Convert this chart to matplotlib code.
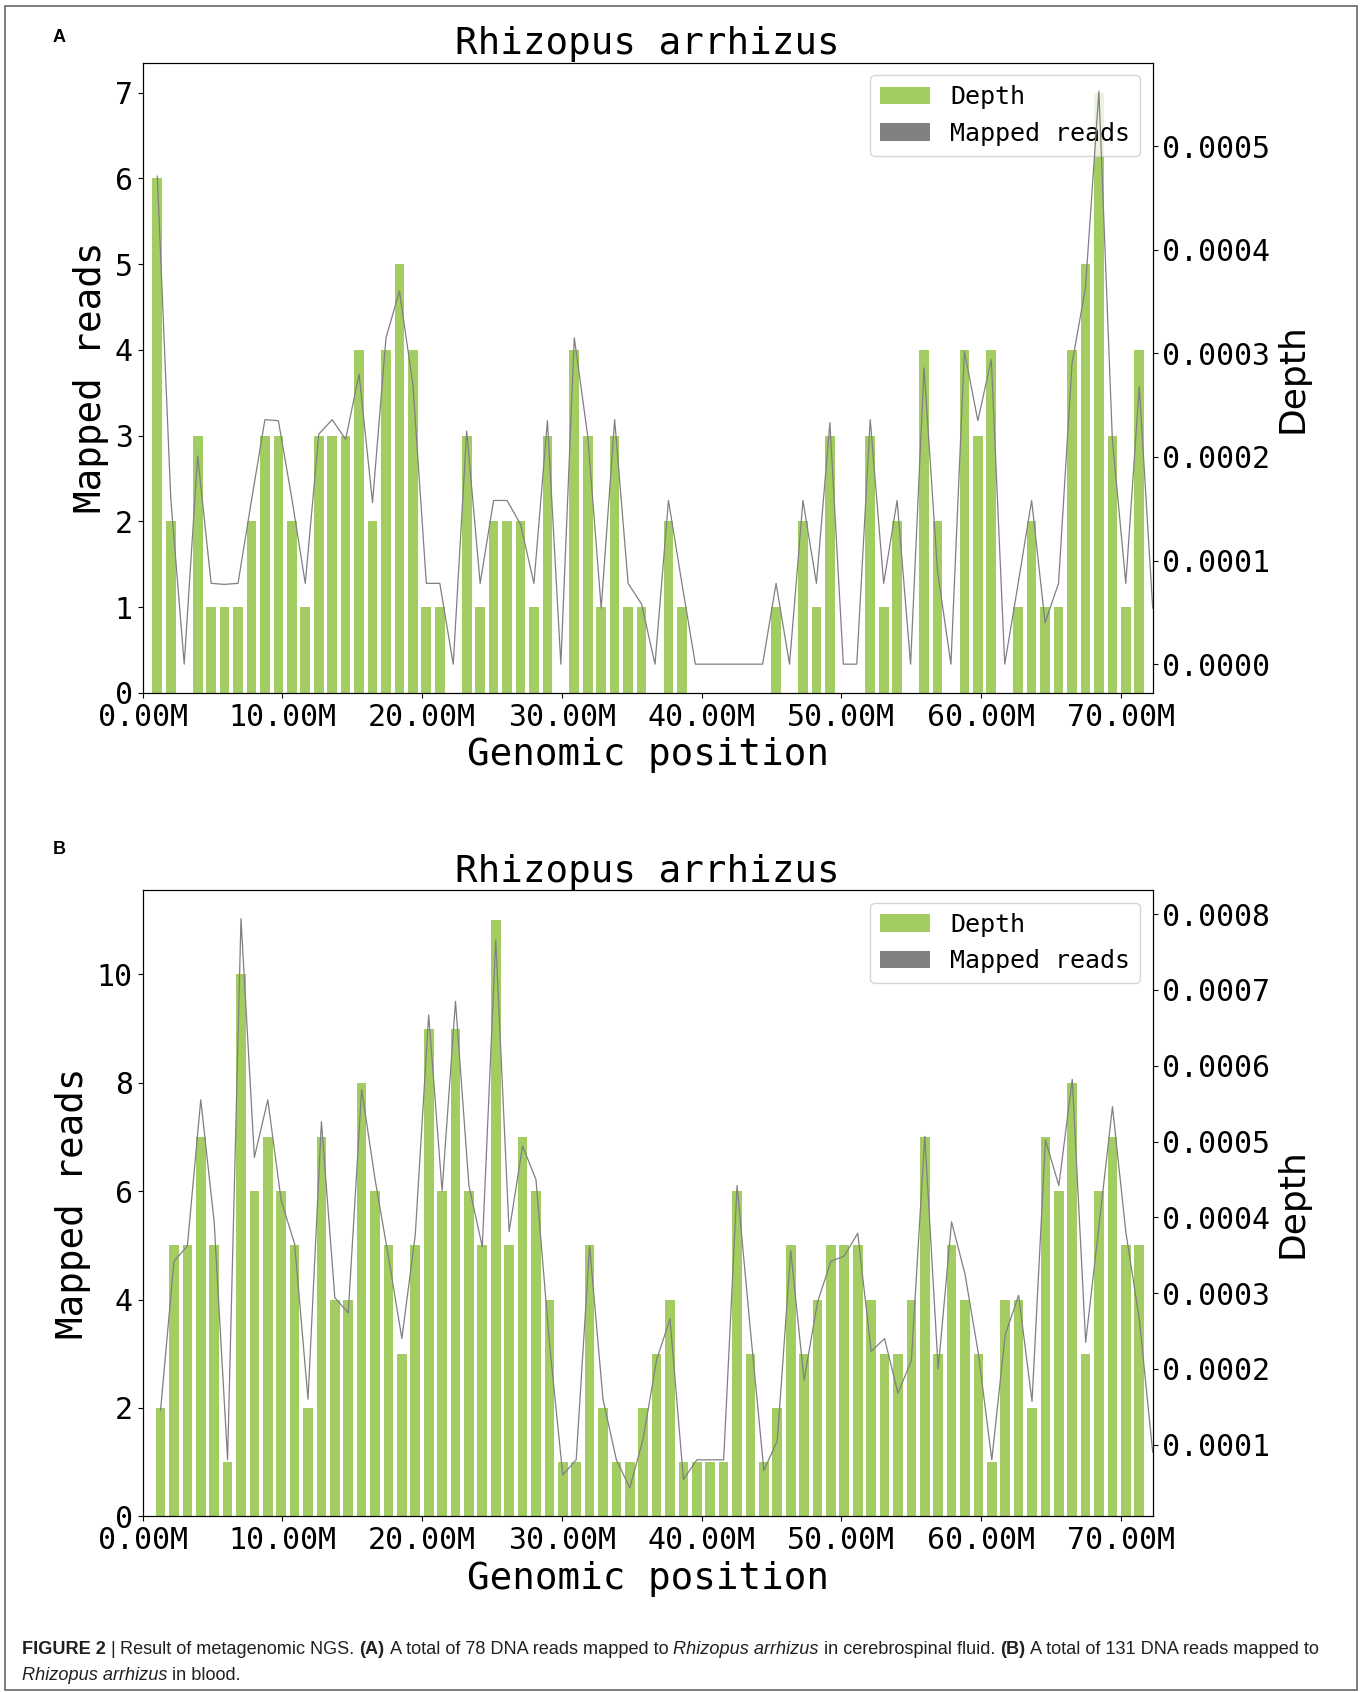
import numpy as np
import matplotlib
matplotlib.use("Agg")
import matplotlib.pyplot as plt
from matplotlib.patches import Patch, Rectangle
from matplotlib.ticker import MultipleLocator, FormatStrFormatter, FuncFormatter
from matplotlib import font_manager

# ---------------- data ----------------
title = "Rhizopus arrhizus"
genome_len_mb = 72.28
a_first_mb = 1.06
b_first_mb = 1.29

a_reads = [6, 2, 0, 3, 1, 1, 1, 2, 3, 3,
           2, 1, 3, 3, 3, 4, 2, 4, 5, 4,
           1, 1, 0, 3, 1, 2, 2, 2, 1, 3,
           0, 4, 3, 1, 3, 1, 1, 0, 2, 1,
           0, 0, 0, 0, 0, 0, 1, 0, 2, 1,
           3, 0, 0, 3, 1, 2, 0, 4, 2, 0,
           4, 3, 4, 0, 1, 2, 1, 1, 4, 5,
           7, 3, 1, 4, 0]
a_depth_e4 = [4.71, 1.60, 0.00, 2.01, 0.78, 0.77, 0.78, 1.58, 2.36, 2.35,
              1.60, 0.78, 2.22, 2.36, 2.17, 2.80, 1.56, 3.15, 3.60, 2.70,
              0.78, 0.78, 0.00, 2.25, 0.78, 1.58, 1.58, 1.35, 0.78, 2.35,
              0.00, 3.15, 2.20, 0.54, 2.36, 0.78, 0.58, 0.00, 1.58, 0.78,
              0.00, 0.00, 0.00, 0.00, 0.00, 0.00, 0.78, 0.00, 1.58, 0.78,
              2.33, 0.00, 0.00, 2.36, 0.78, 1.58, 0.00, 2.86, 0.90, 0.00,
              3.02, 2.35, 2.94, 0.00, 0.78, 1.58, 0.40, 0.78, 2.90, 3.63,
              5.53, 2.17, 0.78, 2.68, 0.54]

b_reads = [2, 5, 5, 7, 5, 1, 10, 6, 7, 6,
           5, 2, 7, 4, 4, 8, 6, 5, 3, 5,
           9, 6, 9, 6, 5, 11, 5, 7, 6, 4,
           1, 1, 5, 2, 1, 1, 2, 3, 4, 1,
           1, 1, 1, 6, 3, 1, 2, 5, 3, 4,
           5, 5, 5, 4, 3, 3, 4, 7, 3, 5,
           4, 3, 1, 4, 4, 2, 7, 6, 8, 3,
           6, 7, 5, 5, 0]
b_depth_e4 = [1.45, 3.42, 3.62, 5.55, 3.94, 0.80, 7.94, 4.79, 5.55, 4.22,
              3.65, 1.60, 5.26, 2.94, 2.74, 5.69, 4.50, 3.48, 2.40, 3.77,
              6.67, 4.35, 6.85, 4.42, 3.61, 7.66, 3.81, 4.94, 4.50, 2.35,
              0.60, 0.80, 3.62, 1.60, 0.80, 0.43, 1.08, 2.12, 2.66, 0.54,
              0.80, 0.80, 0.80, 4.42, 2.50, 0.66, 1.05, 3.56, 1.85, 2.88,
              3.42, 3.49, 3.79, 2.23, 2.40, 1.68, 2.11, 5.07, 2.00, 3.94,
              3.25, 2.20, 0.80, 2.45, 2.97, 1.57, 5.02, 4.42, 5.82, 2.35,
              3.90, 5.46, 3.80, 2.66, 0.90]

legend_labels = ["Depth", "Mapped reads"]
caption_line1 = [("FIGURE 2", "bold", "normal", False),
                 ("|", "normal", "normal", True),
                 ("Result of metagenomic NGS.", "normal", "normal", True),
                 ("(A)", "bold", "normal", True),
                 ("A total of 78 DNA reads mapped to", "normal", "normal", True),
                 ("Rhizopus arrhizus", "normal", "italic", True),
                 ("in cerebrospinal fluid.", "normal", "normal", True),
                 ("(B)", "bold", "normal", True),
                 ("A total of 131 DNA reads mapped to", "normal", "normal", True)]
caption_line2 = [("Rhizopus arrhizus", "normal", "italic", False),
                 ("in blood.", "normal", "normal", True)]

# ---------------- style ----------------
GREEN = "#a3cd63"
GRAY = "gray"
MONO = "DejaVu Sans Mono"
plt.rcParams["font.family"] = [MONO, "DejaVu Sans"]

installed = {f.name for f in font_manager.fontManager.ttflist}
CAP_FONT = "Liberation Sans Narrow" if "Liberation Sans Narrow" in installed else "Liberation Sans"

W, H = 1363, 1692
DPI = 100
fig = plt.figure(figsize=(W / DPI, H / DPI), dpi=DPI)


def frac_rect(x0, y0, x1, y1):
    return [x0 / W, 1 - y1 / H, (x1 - x0) / W, (y1 - y0) / H]


def panel(rect, first_mb, reads, depth_e4, letter, letter_y):
    pos = np.linspace(first_mb, genome_len_mb, len(reads)) * 1e6
    step = pos[1] - pos[0]
    ax = fig.add_axes(rect)
    ax.bar(pos, reads, width=0.72 * step, color=GREEN, zorder=2)
    ax2 = ax.twinx()
    ax2.plot(pos, np.array(depth_e4) * 1e-4, color=GRAY, lw=0.9)
    ax.set_xlim(0, genome_len_mb * 1e6)
    ax.xaxis.set_major_locator(MultipleLocator(10e6))
    ax.xaxis.set_major_formatter(FuncFormatter(lambda v, p: f"{v / 1e6:.2f}M"))
    ax.tick_params(labelsize=21.5)
    ax2.tick_params(labelsize=21.5)
    ax2.yaxis.set_major_locator(MultipleLocator(1e-4))
    ax2.yaxis.set_major_formatter(FormatStrFormatter("%.4f"))
    ax.set_title(title, fontsize=27)
    ax.set_xlabel("Genomic position", fontsize=27)
    ax.set_ylabel("Mapped reads", fontsize=27)
    ax2.set_ylabel("Depth", fontsize=26, family="DejaVu Sans")
    handles = [Patch(facecolor=GREEN), Patch(facecolor=GRAY)]
    ax.legend(handles, legend_labels, loc="upper right", fontsize=18)
    fig.text(59 / W, 1 - letter_y / H, letter, fontsize=13, fontweight="bold",
             family="Liberation Sans", ha="center", va="center")
    return ax, ax2


panel(frac_rect(142.5, 62.6, 1152.7, 692.8), a_first_mb, a_reads, a_depth_e4, "A", 38)
panel(frac_rect(142.5, 890.3, 1152.7, 1516.3), b_first_mb, b_reads, b_depth_e4, "B", 849)

# outer frame
fig.add_artist(Rectangle((5 / W, 1 - 1690 / H), (1357 - 5) / W, (1690 - 6) / H,
                         transform=fig.transFigure, fill=False, edgecolor="#666666", lw=1.2))

# ---------------- caption ----------------
fig.canvas.draw()
renderer = fig.canvas.get_renderer()


def draw_line(tokens, x0, y_base, size):
    texts = []
    sp_a = fig.text(0, 0, "x x", fontsize=size, family=CAP_FONT)
    sp_b = fig.text(0, 0, "xx", fontsize=size, family=CAP_FONT)
    space = sp_a.get_window_extent(renderer).width - sp_b.get_window_extent(renderer).width
    sp_a.remove(); sp_b.remove()
    x = x0
    for s, wgt, sty, sp in tokens:
        if sp:
            x += space
        t = fig.text(x / W, 1 - y_base / H, s, fontsize=size, fontweight=wgt, fontstyle=sty,
                     family=CAP_FONT, color="#231f20", va="baseline", ha="left")
        x = t.get_window_extent(renderer).x1
        texts.append(t)
    return texts, x - x0


base = 13
ts, w = draw_line(caption_line1, 21.6, 1654, base)
for t in ts:
    t.remove()
size = base * (1297 / w)
draw_line(caption_line1, 21.6, 1654, size)
draw_line(caption_line2, 21.6, 1680, size)

fig.savefig("out.png", dpi=DPI)
